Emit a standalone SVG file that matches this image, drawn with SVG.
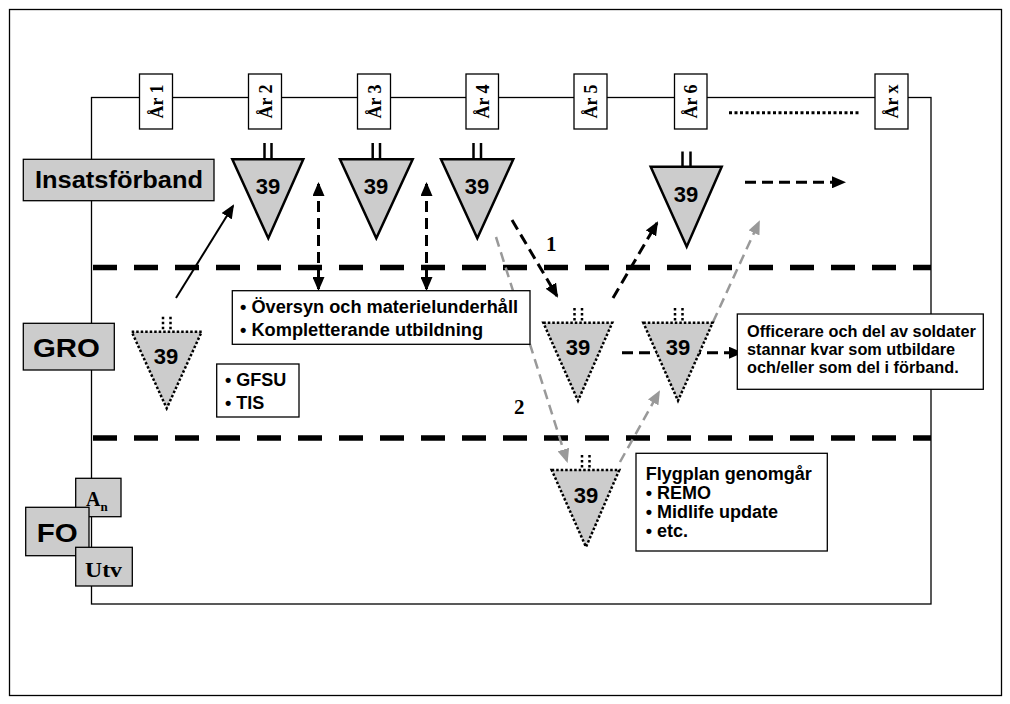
<svg xmlns="http://www.w3.org/2000/svg" width="1010" height="704" viewBox="0 0 1010 704">
<style>
.frame{fill:none;stroke:#000;stroke-width:1.3}
.yr{fill:#fff;stroke:#000;stroke-width:1.3}
.yt{font-family:"Liberation Serif",serif;font-weight:bold;font-size:18px;text-anchor:middle}
.lane{fill:#ccc;stroke:#000;stroke-width:1.3}
.lt{font-family:"Liberation Sans",Arial,sans-serif;font-weight:bold}
.st{font-family:"Liberation Serif",serif;font-weight:bold}
.sep{stroke:#000;stroke-width:5.5;stroke-dasharray:24 17;fill:none}
.tri{fill:#ccc;stroke:#000;stroke-width:2.5;stroke-linejoin:miter}
.tick{stroke:#000;stroke-width:2.5}
.dtri{fill:#ccc;stroke:#000;stroke-width:2.5;stroke-dasharray:2.5 2}
.dtick{stroke:#000;stroke-width:2.5;stroke-dasharray:2.5 2.5}
.num{font-family:"Liberation Sans",Arial,sans-serif;font-weight:bold;font-size:22px;text-anchor:middle}
.box{fill:#fff;stroke:#000;stroke-width:1.3}
.bt{font-family:"Liberation Sans",Arial,sans-serif;font-weight:bold;font-size:18px}
.bs{font-family:"Liberation Sans",Arial,sans-serif;font-weight:bold;font-size:16.3px}
.solid{stroke:#000;stroke-width:2;fill:none}
.dash{stroke:#000;stroke-width:3;stroke-dasharray:11 6;fill:none}
.gdash{stroke:#999;stroke-width:2.5;stroke-dasharray:10 6;fill:none}
</style>
<defs>
<marker id="ah" viewBox="0 0 14 12" refX="12" refY="6" markerWidth="14" markerHeight="12" markerUnits="userSpaceOnUse" orient="auto-start-reverse"><path d="M0,0 L14,6 L0,12 z" fill="#000"/></marker>
<marker id="ahg" viewBox="0 0 14 12" refX="12" refY="6" markerWidth="14" markerHeight="12" markerUnits="userSpaceOnUse" orient="auto-start-reverse"><path d="M0,0 L14,6 L0,12 z" fill="#999"/></marker>
</defs>
<rect x="0" y="0" width="1010" height="704" fill="#fff"/>
<rect class="frame" x="9.5" y="9.5" width="992" height="686"/>
<rect class="frame" x="91.5" y="97.5" width="839.5" height="506.5"/>
<g id="separators">
<line class="sep" x1="93" y1="267.5" x2="931" y2="267.5"/>
<line class="sep" x1="93" y1="438" x2="931" y2="438"/>
</g>
<g id="years">
<g id="ar1"><rect class="yr" x="139.5" y="74" width="33" height="55"/><text class="yt" transform="translate(156,101.5) rotate(-90)" x="0" y="6.5">År 1</text></g>
<g id="ar2"><rect class="yr" x="248.5" y="74" width="33" height="55"/><text class="yt" transform="translate(265,101.5) rotate(-90)" x="0" y="6.5">År 2</text></g>
<g id="ar3"><rect class="yr" x="357.5" y="74" width="33" height="55"/><text class="yt" transform="translate(374,101.5) rotate(-90)" x="0" y="6.5">År 3</text></g>
<g id="ar4"><rect class="yr" x="466" y="74" width="32.5" height="55"/><text class="yt" transform="translate(482.2,101.5) rotate(-90)" x="0" y="6.5">År 4</text></g>
<g id="ar5"><rect class="yr" x="574" y="74" width="33" height="55"/><text class="yt" transform="translate(590.5,101.5) rotate(-90)" x="0" y="6.5">År 5</text></g>
<g id="ar6"><rect class="yr" x="674.5" y="74" width="32.5" height="55"/><text class="yt" transform="translate(690.7,101.5) rotate(-90)" x="0" y="6.5">År 6</text></g>
<line x1="729" y1="112.7" x2="860" y2="112.7" stroke="#000" stroke-width="3" stroke-dasharray="3 2.5"/>
<g id="arx"><rect class="yr" x="875" y="74" width="33" height="55"/><text class="yt" transform="translate(891.5,101.5) rotate(-90)" x="0" y="6.5">År x</text></g>
</g>
<g id="lanes">
<g id="insats"><rect class="lane" x="23.3" y="159.3" width="190.7" height="41.4"/><text class="lt" x="35" y="188" font-size="23" textLength="168" lengthAdjust="spacingAndGlyphs">Insatsförband</text></g>
<g id="gro"><rect class="lane" x="23.3" y="323.3" width="91" height="46.7"/><text class="lt" x="33" y="357" font-size="26" textLength="67" lengthAdjust="spacingAndGlyphs">GRO</text></g>
<g id="an"><rect class="lane" x="75.7" y="478.3" width="45.3" height="38.4"/><text class="st" x="86" y="506" font-size="20">A<tspan font-size="13" dy="5">n</tspan></text></g>
<g id="fo"><rect class="lane" x="25.7" y="507.3" width="63.3" height="48.4"/><text class="lt" x="36.7" y="541.7" font-size="26" textLength="41" lengthAdjust="spacingAndGlyphs">FO</text></g>
<g id="utv"><rect class="lane" x="75.7" y="547.3" width="56.6" height="38.7"/><text class="st" x="85" y="576.7" font-size="20" textLength="37" lengthAdjust="spacingAndGlyphs">Utv</text></g>
</g>
<g id="connectors">
<line class="solid" x1="176" y1="298" x2="233" y2="206" marker-end="url(#ah)"/>
<line class="dash" x1="318.5" y1="184" x2="318.5" y2="289" marker-start="url(#ah)" marker-end="url(#ah)"/>
<line class="dash" x1="426.5" y1="184" x2="426.5" y2="289" marker-start="url(#ah)" marker-end="url(#ah)"/>
<line class="dash" x1="512" y1="220" x2="557" y2="296" marker-end="url(#ah)"/>
<line class="gdash" x1="496" y1="237" x2="567" y2="461" marker-end="url(#ahg)"/>
<line class="gdash" x1="620" y1="462" x2="659" y2="392" marker-end="url(#ahg)"/>
<line class="gdash" x1="713" y1="322" x2="759" y2="222" marker-end="url(#ahg)"/>
<line class="dash" x1="613" y1="298" x2="657" y2="223" marker-end="url(#ah)"/>
<line class="dash" x1="745" y1="182.3" x2="844" y2="182.3" marker-end="url(#ah)"/>
<line class="dash" x1="622" y1="352.7" x2="741" y2="352.7" marker-end="url(#ah)"/>
<text class="st" x="546" y="251" font-size="21">1</text>
<text class="st" x="514" y="414" font-size="21">2</text>
</g>
<g id="t1"><line class="tick" x1="264.5" y1="143" x2="264.5" y2="159"/><line class="tick" x1="271.5" y1="143" x2="271.5" y2="159"/><path class="tri" d="M232.3,159.3 L303.3,159.3 L268.3,238.3 Z"/><text class="num" x="268" y="194">39</text></g>
<g id="t2"><line class="tick" x1="372.7" y1="143" x2="372.7" y2="159"/><line class="tick" x1="380" y1="143" x2="380" y2="159"/><path class="tri" d="M340,159.3 L412.7,159.3 L376.3,238.3 Z"/><text class="num" x="376" y="194">39</text></g>
<g id="t3"><line class="tick" x1="473.5" y1="143" x2="473.5" y2="159"/><line class="tick" x1="481" y1="143" x2="481" y2="159"/><path class="tri" d="M441,159.3 L513.3,159.3 L477.3,238.3 Z"/><text class="num" x="477" y="194">39</text></g>
<g id="t4"><line class="tick" x1="682.5" y1="151.5" x2="682.5" y2="166.7"/><line class="tick" x1="690.5" y1="151.5" x2="690.5" y2="166.7"/><path class="tri" d="M650.7,166.7 L721.7,166.7 L686.7,246.7 Z"/><text class="num" x="686" y="202">39</text></g>
<g id="g1"><line class="dtick" x1="163" y1="316.7" x2="163" y2="331.7"/><line class="dtick" x1="170.5" y1="316.7" x2="170.5" y2="331.7"/><path class="dtri" d="M131.7,331.7 L201.7,331.7 L166.7,408.3 Z"/><text class="num" x="166" y="364">39</text></g>
<g id="g2"><line class="dtick" x1="574.5" y1="308" x2="574.5" y2="322.7"/><line class="dtick" x1="582" y1="308" x2="582" y2="322.7"/><path class="dtri" d="M543.3,322.7 L612.3,322.7 L578,400.7 Z"/><text class="num" x="578" y="355">39</text></g>
<g id="g3"><line class="dtick" x1="675" y1="308" x2="675" y2="322.7"/><line class="dtick" x1="682.5" y1="308" x2="682.5" y2="322.7"/><path class="dtri" d="M643.3,322.7 L712.7,322.7 L678,400.7 Z"/><text class="num" x="678" y="355">39</text></g>
<g id="f1"><line class="dtick" x1="582" y1="455" x2="582" y2="470"/><line class="dtick" x1="589.5" y1="455" x2="589.5" y2="470"/><path class="dtri" d="M551.7,470 L619.3,470 L586,547 Z"/><text class="num" x="586" y="503">39</text></g>
<g id="box-oversyn"><rect class="box" x="232.3" y="290.7" width="297.7" height="53.6"/><text class="bt" x="240" y="313" textLength="278" lengthAdjust="spacingAndGlyphs">• Översyn och materielunderhåll</text><text class="bt" x="240" y="336" textLength="243" lengthAdjust="spacingAndGlyphs">• Kompletterande utbildning</text></g>
<g id="box-gfsu"><rect class="box" x="216.7" y="364" width="82.3" height="53"/><text class="bt" x="225" y="386">• GFSU</text><text class="bt" x="225" y="409">• TIS</text></g>
<g id="box-officerare"><rect class="box" x="737.3" y="314" width="246" height="75.3"/><text class="bs" x="747" y="336.7">Officerare och del av soldater</text><text class="bs" x="747" y="355">stannar kvar som utbildare</text><text class="bs" x="747" y="372.7">och/eller som del i förband.</text></g>
<g id="box-flygplan"><rect class="box" x="636" y="453.3" width="191.3" height="97.7"/><text class="bt" x="645.7" y="480">Flygplan genomgår</text><text class="bt" x="645.7" y="499">• REMO</text><text class="bt" x="645.7" y="518.3">• Midlife update</text><text class="bt" x="645.7" y="537.3">• etc.</text></g>
</svg>
